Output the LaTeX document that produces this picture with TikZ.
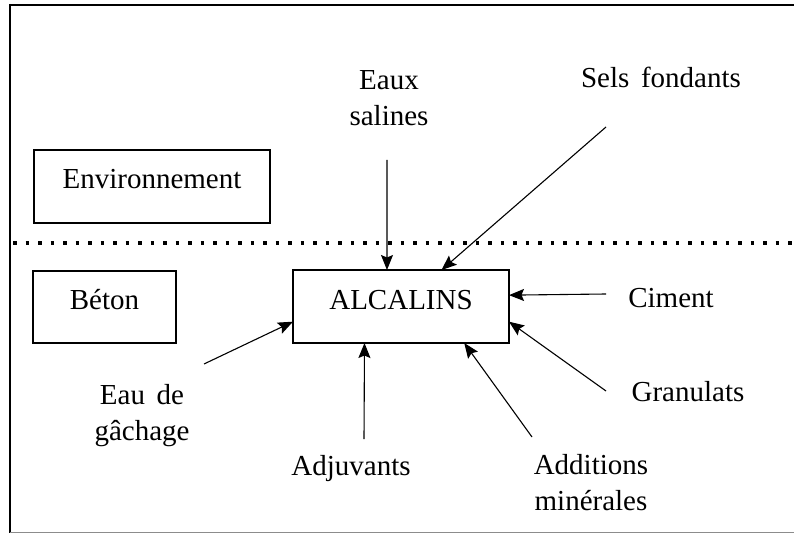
\documentclass[tikz,border=0pt]{standalone}
\usepackage{fontspec}
\setmainfont{Liberation Serif}[WordSpace=1.6]
\usetikzlibrary{arrows.meta}

\begin{document}
\begin{tikzpicture}[x=1pt,y=-1pt,>={Stealth[length=15pt,width=12pt,inset=2.5pt]}]
\tikzset{box/.style={draw,line width=1.3pt,inner sep=0pt,outer sep=0pt,text height=18pt,text depth=13pt,font=\fontsize{29}{36}\selectfont}}
\tikzset{lbl/.style={align=center,inner sep=0pt,font=\fontsize{29}{36}\selectfont}}
\useasboundingbox (0,0) rectangle (794,534);

% cadre
\draw[line width=1.4pt] (794,5) -- (10,5);
\draw[line width=2.8pt] (10,4) -- (10,533);
\draw[line width=1pt,black!45] (10,532) -- (794,532);
\draw[line width=3.6pt,dash pattern=on 3.6pt off 8.9pt] (13,243) -- (794,243);

\node (env) at (152,186.5) [box,minimum width=236,minimum height=73] {Environnement};
\node (bet) at (104.5,307) [box,minimum width=143,minimum height=72] {B\'eton};
\node (alc) at (401,306.5) [box,minimum width=216,minimum height=73] {ALCALINS};

\node (es) at (389,70) [lbl,anchor=north] {Eaux\\salines};
\node (sf) at (661,88) [lbl,anchor=base] {Sels fondants};
\node (ci) at (671,307) [lbl,anchor=base] {Ciment};
\node (gr) at (688,401) [lbl,anchor=base] {Granulats};
\node (am) at (591,454) [lbl,anchor=north] {Additions\\min\'erales};
\node (ad) at (351,475) [lbl,anchor=base] {Adjuvants};
\node (eg) at (142,384) [lbl,anchor=north] {Eau de\\g\^achage};

\coordinate (es0) at (387,160);
\coordinate (sf0) at (606,127);
\coordinate (ci0) at (606,294);
\coordinate (gr0) at (606,391);
\coordinate (am0) at (532,437);
\coordinate (ad0) at (364,439);
\coordinate (eg0) at (204,364);

\path[line width=1.1pt]
(es0) edge [->] (alc.111)
(sf0) edge [->] (alc.42.4)
(ci0) edge [->] (alc.6.6)
(gr0) edge [->] (alc.-8.2)
(am0) edge [->] (alc.-30.9)
(ad0) edge [->] (alc.-135.4)
(eg0) edge [->] (alc.-172.4);
\end{tikzpicture}
\end{document}
